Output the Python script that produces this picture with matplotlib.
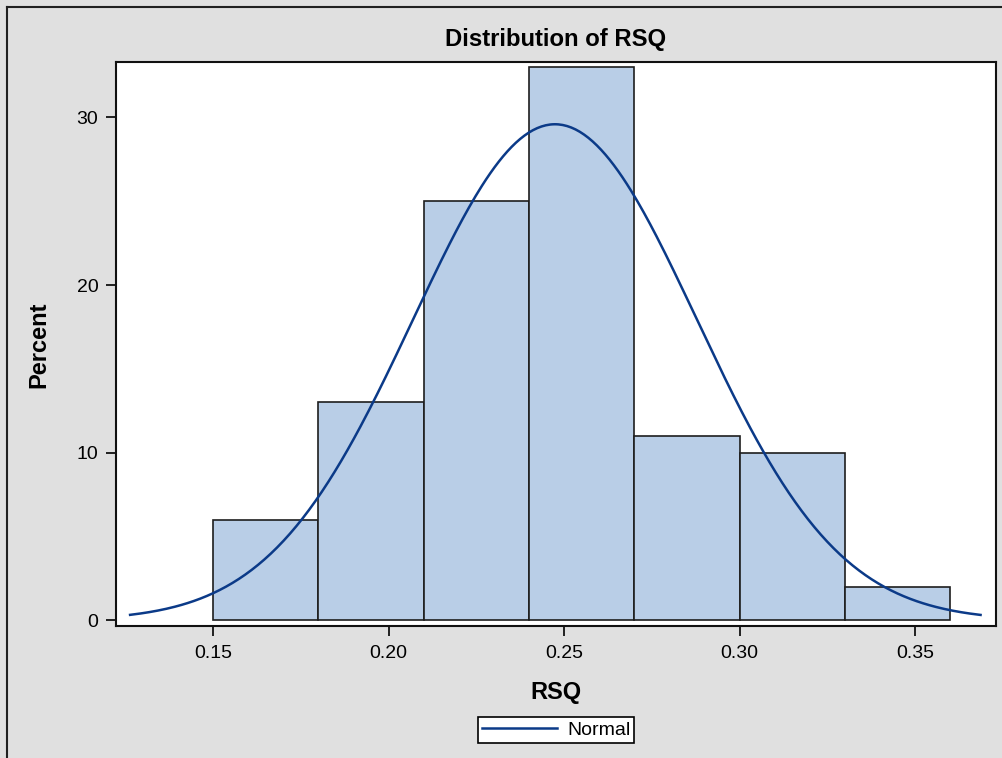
import numpy as np
import matplotlib
matplotlib.use("Agg")
import matplotlib.pyplot as plt
from matplotlib.lines import Line2D

plt.rcParams['font.family'] = ['Liberation Sans', 'DejaVu Sans']

# Data
bin_edges = [0.15, 0.18, 0.21, 0.24, 0.27, 0.30, 0.33, 0.36]
percents = [6, 13, 25, 33, 11, 10, 2]
normal_mu = 0.2474
normal_sigma = 0.04045
curve_range = (0.1263, 0.3687)
x_ticks = [0.15, 0.20, 0.25, 0.30, 0.35]
x_tick_labels = ["0.15", "0.20", "0.25", "0.30", "0.35"]
y_ticks = [0, 10, 20, 30]
y_tick_labels = ["0", "10", "20", "30"]

W, H = 1003, 758
fig = plt.figure(figsize=(W / 100, H / 100), dpi=100)
fig.patch.set_facecolor('#e0e0e0')

# outer frame (left & top visible)
fig.add_artist(Line2D([7 / W, 7 / W], [0, 1 - 7 / H], transform=fig.transFigure, color='#202020', lw=1.5))
fig.add_artist(Line2D([7 / W, 1], [1 - 7 / H, 1 - 7 / H], transform=fig.transFigure, color='#202020', lw=1.5))

left, right, top, bottom = 115.7, 996, 62, 626
ax = fig.add_axes([left / W, 1 - bottom / H, (right - left) / W, (bottom - top) / H])
ax.set_facecolor('white')

widths = np.diff(bin_edges)
ax.bar(bin_edges[:-1], percents, width=widths, align='edge',
       color='#b9cee7', edgecolor='#1e1e1e', linewidth=1.2, zorder=2)

xs = np.linspace(curve_range[0], curve_range[1], 400)
bw = widths[0]
ys = 100 * bw / (normal_sigma * np.sqrt(2 * np.pi)) * np.exp(-0.5 * ((xs - normal_mu) / normal_sigma) ** 2)
line, = ax.plot(xs, ys, color='#0b3a88', lw=1.8, zorder=3, label='Normal')

ax.set_xlim(0.1222, 0.3731)
ax.set_ylim(-0.33, 33.3)
ax.set_xticks(x_ticks)
ax.set_xticklabels(x_tick_labels)
ax.set_yticks(y_ticks)
ax.set_yticklabels(y_tick_labels)
ax.tick_params(direction='out', length=7.5, width=1.2, labelsize=14, pad=5, colors='black')
ax.tick_params(axis='x', pad=6)
for s in ax.spines.values():
    s.set_linewidth(1.5)
    s.set_color('#111111')

fig.text((left + right) / 2 / W, 1 - 39.5 / H, "Distribution of RSQ", ha='center', va='center',
         fontsize=17.2, fontweight='bold')
fig.text((left + right) / 2 / W, 1 - 692 / H, "RSQ", ha='center', va='center',
         fontsize=17, fontweight='bold')
fig.text(39 / W, 1 - 345 / H, "Percent", ha='center', va='center', rotation=90,
         fontsize=17, fontweight='bold')

leg = fig.legend(handles=[line], labels=['Normal'], loc='center',
                 bbox_to_anchor=(556 / W, 1 - 730 / H), fontsize=14, frameon=True,
                 fancybox=False, edgecolor='black', facecolor='white', framealpha=1,
                 handlelength=3.9, handletextpad=0.5, borderpad=0.2, borderaxespad=0)
leg.get_frame().set_linewidth(1.2)

fig.savefig('out.png', dpi=100, facecolor=fig.get_facecolor())
